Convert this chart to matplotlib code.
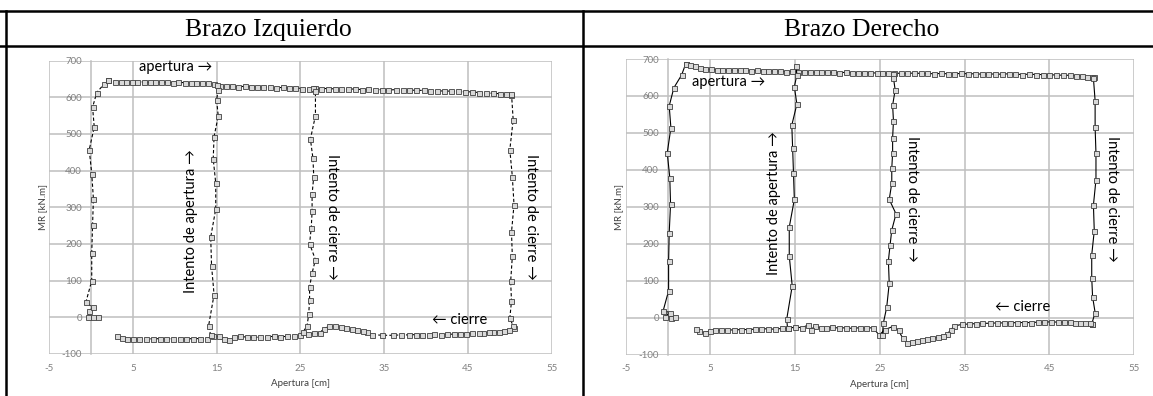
import numpy as np
import matplotlib.pyplot as plt
from matplotlib.lines import Line2D

# ---- data (Apertura [cm], MR [kN.m]) ----
# Brazo Izquierdo
izq_sube_x = [0.3, 0.8, -0.4, -0.2, 0.2, -0.6, 0.1, 0.1, 0.2, 0.3, 0.1, -0.2, 0.4, 0.2, 0.7, 1.6, 2.1]
izq_sube_y = [0, 1, 1, 16, 27, 41, 100, 175, 252, 323, 392, 457, 519, 573, 613, 637, 646]

izq_arriba_x = [2.1, 2.9, 3.6, 4.2, 4.9, 5.5, 6.3, 7.0, 7.6, 8.4, 9.1, 9.8, 10.4, 11.2, 11.9, 12.6,
                13.3, 14.0, 14.7, 15.4, 16.1, 16.9, 17.6, 18.4, 19.1, 19.8, 20.6, 21.4, 22.1, 22.9,
                23.6, 24.4, 25.2, 26.0, 26.7, 27.5, 28.3, 29.1, 29.9, 30.7, 31.5, 32.3, 33.1, 33.9,
                34.7, 35.5, 36.4, 37.2, 38.0, 38.8, 39.7, 40.5, 41.3, 42.2, 43.0, 43.8, 44.7, 45.5,
                46.3, 47.2, 48.0, 48.8, 49.5, 50.1]
izq_arriba_y = [646, 643, 643, 642, 643, 642, 642, 641, 642, 641, 641, 640, 641, 640, 639, 640,
                638, 638, 636, 632, 630, 631, 629, 630, 628, 629, 627, 628, 626, 627,
                625, 626, 624, 622, 625, 624, 624, 623, 624, 622, 623, 621, 622, 621,
                621, 620, 621, 619, 620, 619, 619, 618, 618, 617, 617, 616, 615, 615,
                613, 612, 611, 610, 608, 607]

izq_baja50_x = [50.2, 50.4, 50.0, 50.3, 50.5, 50.2, 50.3, 50.1, 50.2, 50.0, 50.5]
izq_baja50_y = [610, 539, 457, 384, 307, 232, 166, 98, 44, -2, -29]

izq_abajo_x = [50.4, 49.9, 49.3, 48.7, 48.0, 47.5, 46.8, 46.3, 45.5, 44.8, 44.0, 43.3, 42.5, 41.8,
               41.0, 40.3, 39.5, 38.8, 38.0, 37.0, 36.0, 34.8, 33.5, 33.0, 32.5, 31.8, 31.2, 30.5,
               29.9, 29.1, 28.4, 27.8, 27.3, 26.6, 25.9, 25.0, 24.2, 23.4, 22.6, 21.8, 21.0, 20.2,
               19.4, 18.6, 17.8, 17.1, 16.5, 15.9, 15.3, 14.6, 13.8, 13.0, 12.2, 11.4, 10.6, 9.8,
               9.0, 8.2, 7.4, 6.6, 5.8, 5.0, 4.3, 3.7, 3.1]
izq_abajo_y = [-25, -35, -38, -40, -41, -41, -43, -43, -44, -45, -45, -46, -46, -47,
               -46, -47, -48, -47, -48, -48, -49, -49, -47, -41, -37, -34, -31, -29,
               -26, -25, -25, -31, -43, -44, -46, -49, -52, -52, -53, -52, -53, -54,
               -55, -54, -52, -55, -61, -58, -52, -52, -58, -58, -58, -59, -58, -58,
               -59, -58, -59, -58, -59, -59, -58, -57, -50]

izq_m15_x = [14.3, 14.05, 14.7, 14.4, 14.3, 14.9, 14.9, 14.6, 14.7, 15.2, 15.0, 15.2, 15.0]
izq_m15_y = [-49, -23, 62, 141, 219, 295, 366, 432, 493, 549, 593, 620, 634]

izq_m26_x = [26.5, 26.8, 26.8, 26.2, 26.5, 26.6, 26.4, 26.4, 26.3, 26.1, 26.8, 26.4, 26.1, 26.1,
             26.0, 25.8, 25.3]
izq_m26_y = [625, 616, 550, 486, 434, 384, 336, 289, 244, 201, 157, 121, 82, 48, 9, -23, -41]

# Brazo Derecho
der_sube_x = [0.3, 0.8, -0.4, 0.2, -0.58, 0.06, 0.06, 0.13, 0.29, 0.2, -0.1, 0.33, 0.13, 0.68, 1.6, 2.06]
der_sube_y = [0, 3, 3, 14, 19, 73, 153, 230, 307, 379, 446, 514, 573, 622, 657, 686]

der_arriba_x = [2.06, 2.6, 3.2, 3.8, 4.4, 5.1, 5.8, 6.4, 7.1, 7.8, 8.5, 9.1, 9.8, 10.5, 11.2, 11.8,
                12.5, 13.2, 13.9, 14.6, 15.3, 16.0, 16.7, 17.4, 18.1, 18.8, 19.5, 20.2, 21.0, 21.7,
                22.4, 23.1, 23.8, 24.6, 25.3, 26.0, 26.7, 27.5, 28.2, 29.0, 29.8, 30.6, 31.4, 32.2,
                33.0, 33.8, 34.6, 35.4, 36.2, 37.0, 37.8, 38.6, 39.4, 40.2, 41.0, 41.8, 42.6, 43.4,
                44.2, 45.0, 45.8, 46.6, 47.4, 48.2, 48.9, 49.5, 50.0, 50.3]
der_arriba_y = [686, 684, 680, 675, 673, 672, 671, 671, 670, 670, 669, 669, 668, 669, 668, 667,
                668, 667, 666, 667, 665, 666, 665, 664, 665, 664, 664, 663, 664, 663,
                663, 662, 663, 662, 662, 661, 662, 661, 661, 662, 661, 661, 660, 661,
                660, 660, 661, 660, 660, 659, 660, 659, 659, 660, 659, 658, 659, 658,
                658, 657, 657, 656, 656, 655, 654, 652, 651, 650]

der_baja50_x = [50.2, 50.4, 50.4, 50.5, 50.5, 50.2, 50.3, 50.0, 50.0, 50.1, 50.4, 50.0]
der_baja50_y = [648, 587, 515, 445, 373, 305, 235, 170, 108, 57, 14, -17]

der_abajo_x = [50.0, 49.8, 49.2, 48.6, 48.0, 47.4, 46.7, 46.0, 45.2, 44.4, 43.6, 42.8, 42.0, 41.2,
               40.4, 39.6, 38.8, 38.0, 37.1, 36.3, 35.5, 34.7, 33.8, 33.35, 32.95, 32.4, 31.8, 31.2,
               30.6, 30.0, 29.4, 28.8, 28.25, 27.7, 27.2, 26.5, 25.6, 24.9, 24.2, 23.4, 22.6, 21.8,
               21.0, 20.2, 19.4, 18.6, 18.1, 17.3, 16.9, 16.5, 15.8, 15.0, 14.2, 13.4, 12.6, 11.8,
               11.0, 10.2, 9.4, 8.6, 7.8, 7.0, 6.2, 5.5, 4.9, 4.3, 3.6, 3.3]
der_abajo_y = [-17, -15, -14, -13, -13, -12, -12, -12, -11, -12, -12, -13, -13, -13,
               -14, -14, -14, -15, -15, -16, -17, -18, -22, -33, -44, -49, -53, -56,
               -58, -61, -63, -65, -68, -56, -34, -24, -32, -47, -27, -28, -27, -29,
               -27, -28, -26, -27, -29, -22, -33, -20, -27, -25, -29, -29, -31, -30,
               -30, -31, -32, -32, -33, -33, -34, -33, -36, -40, -37, -31]

der_m15_x = [14.1, 14.0, 14.65, 14.3, 14.3, 14.9, 14.8, 14.7, 14.6, 15.2, 14.9, 15.2, 15.1]
der_m15_y = [-29, -4, 86, 167, 245, 320, 391, 458, 521, 578, 625, 657, 681]

der_m26_x = [26.6, 26.6, 26.8, 26.5, 26.6, 26.5, 26.5, 26.4, 26.4, 26.1, 26.9, 26.4, 26.2, 26.0,
             26.1, 25.8, 25.4, 25.3]
der_m26_y = [660, 649, 616, 575, 532, 487, 446, 404, 364, 320, 281, 237, 197, 154, 93, 28, -15, -47]

x_ticks = [-5, 5, 15, 25, 35, 45, 55]
y_ticks = [-100, 0, 100, 200, 300, 400, 500, 600, 700]
titulos = ['Brazo Izquierdo', 'Brazo Derecho']

izq_tramos = [(izq_sube_x, izq_sube_y), (izq_arriba_x, izq_arriba_y), (izq_baja50_x, izq_baja50_y),
              (izq_abajo_x, izq_abajo_y), (izq_m15_x, izq_m15_y), (izq_m26_x, izq_m26_y)]
der_tramos = [(der_sube_x, der_sube_y), (der_arriba_x, der_arriba_y), (der_baja50_x, der_baja50_y),
              (der_abajo_x, der_abajo_y), (der_m15_x, der_m15_y), (der_m26_x, der_m26_y)]

plt.rcParams['font.family'] = ['Lato', 'DejaVu Sans']
plt.rcParams['axes.unicode_minus'] = False

fig = plt.figure(figsize=(11.53, 3.96), dpi=100)

GRID = '#bfbfbf'


def panel(rect, tramos, linestyle, notas):
    ax = fig.add_axes(rect)
    for tx, ty in tramos:
        ax.plot(tx, ty, color='black', lw=0.8, ls=linestyle, marker='s', ms=3.6,
                mfc='#d9d9d9', mec='#404040', mew=0.6, zorder=3)
    ax.set_xlim(-5, 55)
    ax.set_ylim(-100, 700)
    ax.set_xticks(x_ticks)
    ax.set_yticks(y_ticks)
    ax.grid(True, color=GRID, lw=1.1)
    ax.set_axisbelow(True)
    for s in ['top', 'right', 'bottom']:
        ax.spines[s].set_visible(False)
    # vertical axis crosses at x = 0, labels sit next to it
    ax.spines['left'].set_position(('data', 0))
    ax.spines['left'].set_color(GRID)
    ax.spines['left'].set_linewidth(1.1)
    ax.tick_params(axis='both', length=0, labelsize=7, labelcolor='#808080')
    ax.tick_params(axis='y', pad=6.5)
    ax.tick_params(axis='x', pad=7)
    ax.text(-0.013, 0.5, 'MR [kN.m]', rotation=90, ha='center', va='center',
            transform=ax.transAxes, fontsize=7, color='#404040')
    ax.text(0.5, -0.1, 'Apertura [cm]', ha='center', va='center',
            transform=ax.transAxes, fontsize=7, color='#404040')
    for txt, x, y, rot in notas:
        ax.text(x, y, txt, rotation=rot, ha='center', va='center', fontsize=10.5,
                color='black', rotation_mode='anchor', zorder=4)
    return ax


notas_izq = [('apertura →', 10.1, 683, 0),
             ('Intento de apertura →', 12.0, 263, 90),
             ('Intento de cierre →', 28.8, 274, -90),
             ('Intento de cierre →', 52.5, 274, -90),
             ('← cierre', 44.0, -6, 0)]
notas_der = [('apertura →', 7.15, 638, 0),
             ('Intento de apertura →', 12.45, 310, 90),
             ('Intento de cierre →', 28.8, 321, -90),
             ('Intento de cierre →', 52.45, 321, -90),
             ('← cierre', 41.9, 29, 0)]

panel([0.0425, 0.1061, 0.436, 0.7407], izq_tramos, (0, (3, 2)), notas_izq)
panel([0.5427, 0.1043, 0.4409, 0.7467], der_tramos, '-', notas_der)

# table borders around the two panels
borde = dict(color='black', lw=1.8, transform=fig.transFigure)
fig.add_artist(Line2D([0, 1], [0.9722, 0.9722], **borde))
fig.add_artist(Line2D([0, 1], [0.8846, 0.8846], **borde))
fig.add_artist(Line2D([0.0052, 0.0052], [0, 0.9722], **borde))
fig.add_artist(Line2D([0.5056, 0.5056], [0, 0.9722], **borde))

for txt, xc in zip(titulos, [268 / 1153, 862 / 1153]):
    fig.text(xc, 1 - 36 / 396, txt, ha='center', va='baseline', fontsize=18.5,
             family='Liberation Serif')

fig.savefig('out.png', dpi=100)
